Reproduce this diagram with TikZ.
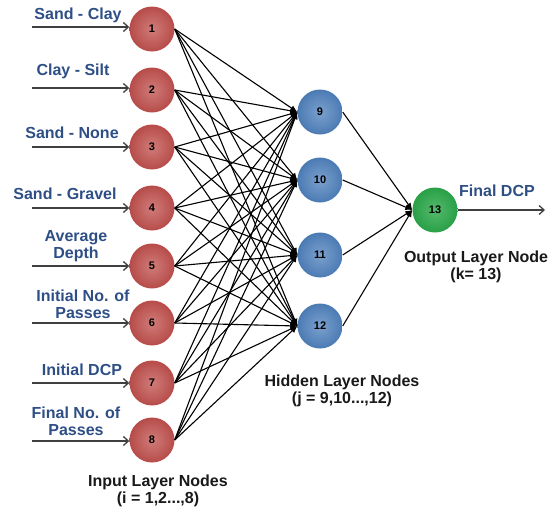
\documentclass[tikz,border=0pt]{standalone}
\usepackage{fontspec}
\setmainfont{Liberation Sans}
\usetikzlibrary{arrows.meta}
\definecolor{labelblue}{HTML}{2E4F86}
\definecolor{inred}{HTML}{C0504D}
\definecolor{hidblue}{HTML}{4F81BD}
\definecolor{outgreen}{HTML}{2BA84A}
\tikzset{
  neuron/.style={circle, minimum size=45pt, inner sep=0pt, font=\bfseries\fontsize{11}{13}\selectfont},
  inneuron/.style={neuron, shade, inner color=inred!75!white, outer color=inred!95!black},
  hidneuron/.style={neuron, shade, inner color=hidblue!75!white, outer color=hidblue!95!black},
  outneuron/.style={neuron, shade, inner color=outgreen!80!white, outer color=outgreen!95!black},
  link/.style={-{Latex[length=7pt,width=6pt]}, line width=1.1pt, black},
  feed/.style={-{Straight Barb[length=5pt,width=9pt]}, line width=1.3pt, black!75},
  inlabel/.style={text=labelblue, font=\bfseries\fontsize{16}{17}\selectfont, align=center},
  caption/.style={text=black!90, font=\bfseries\fontsize{16}{17}\selectfont, align=center}
}
\begin{document}
\begin{tikzpicture}[x=1pt,y=-1pt]
\useasboundingbox (0,0) rectangle (549,512);

% input layer
\foreach \i/\yy in {1/29,2/90,3/147,4/208,5/266,6/323,7/383,8/440}
  \node[inneuron] (n\i) at (152,\yy) {\i};
% hidden layer
\foreach \i/\yy in {9/112,10/180,11/255,12/326}
  \node[hidneuron] (n\i) at (320,\yy) {\i};
% output layer
\node[outneuron] (n13) at (435,210) {13};

% fully connected links
\foreach \i in {1,...,8}
  \foreach \j in {9,...,12}
    \draw[link] (n\i.east) -- (n\j.west);
\foreach \j in {9,...,12}
  \draw[link] (n\j.east) -- (n13.west);

% input arrows and labels
\foreach \i/\yy in {1/27,2/88,3/147,4/208,5/266,6/323,7/383,8/441}
  \coordinate (s\i) at (32,\yy);
\foreach \i in {1,...,8}
  \draw[feed] (s\i) -- (n\i.west |- s\i);

\node[inlabel] (l1) at (78,15) {Sand - Clay};
\node[inlabel] (l2) at (73,71) {Clay - Silt};
\node[inlabel] (l3) at (72,133) {Sand - None};
\node[inlabel] (l4) at (65,194) {Sand - Gravel};
\node[inlabel] (l5) at (76,246) {Average\\Depth};
\node[inlabel] (l6) at (83,304) {Initial No. of\\Passes};
\node[inlabel] (l7) at (82,370) {Initial DCP};
\node[inlabel] (l8) at (76,421) {Final No. of\\Passes};

% output arrow
\coordinate (fin) at (545,210);
\draw[feed] (n13.east) -- (fin);
\node[inlabel] (lout) at (497,191) {Final DCP};

% layer captions
\node[caption] (cin) at (158,491) {Input Layer Nodes\\(i = 1,2...,8)};
\node[caption] (chid) at (342,391) {Hidden Layer Nodes\\(j = 9,10...,12)};
\node[caption] (cout) at (476,267) {Output Layer Node\\(k= 13)};
\end{tikzpicture}
\end{document}
